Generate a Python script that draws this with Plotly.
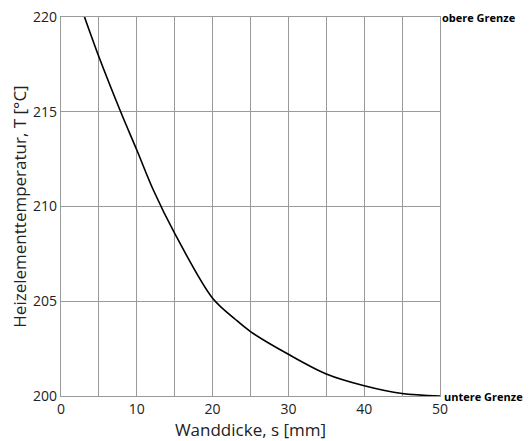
import plotly.graph_objects as go

wall_thickness = [3.1, 5, 7.87, 10, 12.18, 15, 20, 23.1, 25, 30, 35, 40, 45, 50]
temperature = [220, 217.9, 215, 212.98, 210.87, 208.58, 205.16, 204.01, 203.4,
               202.2, 201.16, 200.54, 200.13, 200.0]

x_grid = [0, 5, 10, 15, 20, 25, 30, 35, 40, 45, 50]
x_labels = ["0", "", "10", "", "20", "", "30", "", "40", "", "50"]
y_ticks = [200, 205, 210, 215, 220]
upper_label = "obere Grenze"
lower_label = "untere Grenze"

grid = "#9a9a9a"
font = "Open Sans, Segoe UI, sans-serif"

fig = go.Figure()
fig.add_trace(go.Scatter(
    x=wall_thickness, y=temperature, mode="lines",
    line=dict(color="black", width=1.6, shape="spline", smoothing=0.9),
    showlegend=False, hoverinfo="skip", cliponaxis=False,
))

fig.update_xaxes(
    range=[0, 50], tickmode="array", tickvals=x_grid, ticktext=x_labels,
    showgrid=True, gridcolor=grid, gridwidth=1.3,
    showline=True, linecolor=grid, linewidth=1.3, mirror=True,
    zeroline=False, ticks="", automargin=False, ticklabeloverflow="allow",
    tickfont=dict(family=font, size=14, color="#222"),
    title=dict(text="Wanddicke, s [mm]", font=dict(family=font, size=17, color="#222"), standoff=6),
)
fig.update_yaxes(
    range=[200, 220], tickvals=y_ticks,
    showgrid=True, gridcolor=grid, gridwidth=1.3,
    showline=True, linecolor=grid, linewidth=1.3, mirror=True,
    zeroline=False, ticks="", automargin=False, ticklabeloverflow="allow",
    tickfont=dict(family=font, size=14, color="#222"),
    title=dict(text="Heizelementtemperatur, T [°C]", font=dict(family=font, size=17, color="#222"), standoff=6),
)

fig.add_annotation(x=1, xref="paper", y=220, yref="y", text=upper_label,
                   showarrow=False, xanchor="left", yanchor="middle", xshift=0,
                   font=dict(family=font, size=11, color="black", weight="bold"))
fig.add_annotation(x=1, xref="paper", y=200, yref="y", text=lower_label,
                   showarrow=False, xanchor="left", yanchor="middle", xshift=2,
                   font=dict(family=font, size=11, color="black", weight="bold"))

fig.update_layout(
    width=531, height=441,
    margin=dict(l=53, r=99, t=9, b=53),
    paper_bgcolor="white", plot_bgcolor="white",
)

fig.write_html("out.html")
